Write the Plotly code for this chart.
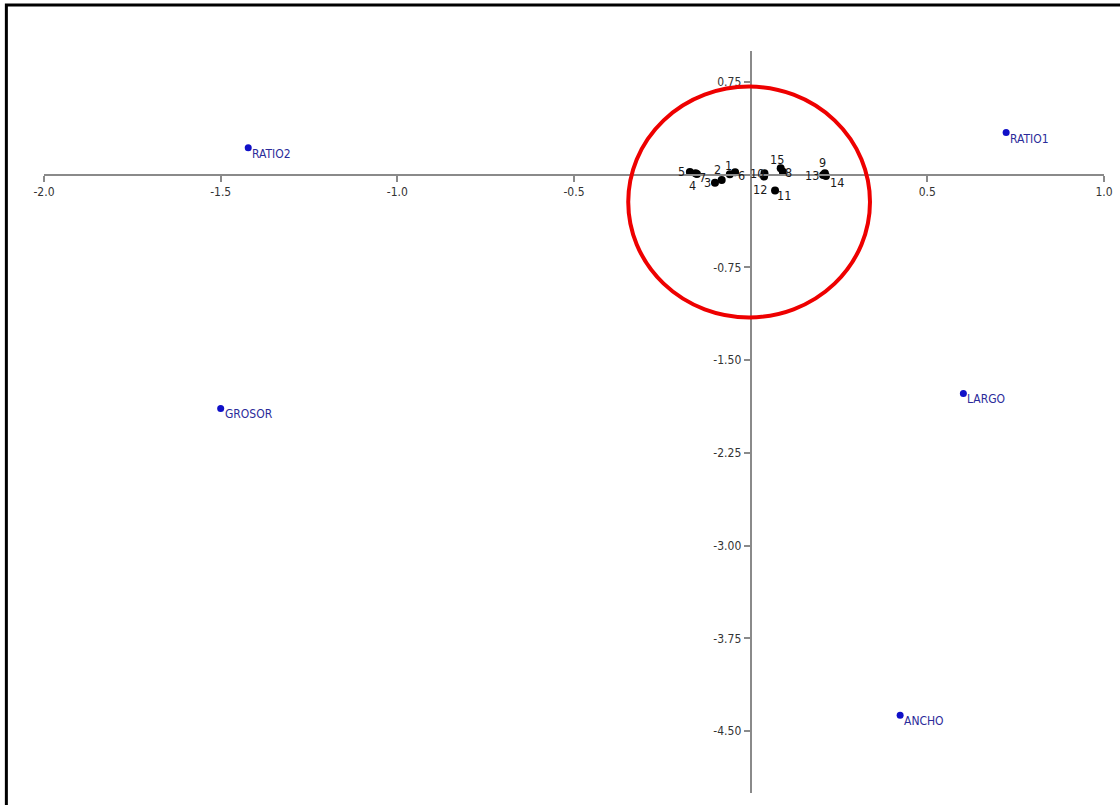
import plotly.graph_objects as go

# Observations (scores on the two components)
obs_labels = ["1", "2", "3", "4", "5", "6", "7", "8", "9", "10", "11", "12", "13", "14", "15"]
obs_x = [-0.059, -0.082, -0.101, -0.156, -0.172, -0.044, -0.152, 0.091, 0.210, 0.039,
         0.069, 0.038, 0.205, 0.213, 0.085]
obs_y = [0.003, -0.043, -0.065, 0.011, 0.022, 0.019, 0.006, 0.024, 0.011, 0.011,
         -0.129, -0.015, -0.002, -0.011, 0.052]

# Variables (loadings)
var_labels = ["RATIO2", "RATIO1", "GROSOR", "LARGO", "ANCHO"]
var_x = [-1.422, 0.723, -1.500, 0.602, 0.423]
var_y = [0.218, 0.340, -1.890, -1.769, -4.371]

# Axis ticks
x_tickvals = [-2.0, -1.5, -1.0, -0.5, 0.5, 1.0]
x_ticktext = ["-2.0", "-1.5", "-1.0", "-0.5", "0.5", "1.0"]
y_tickvals = [0.75, -0.75, -1.50, -2.25, -3.00, -3.75, -4.50]
y_ticktext = ["0.75", "-0.75", "-1.50", "-2.25", "-3.00", "-3.75", "-4.50"]

X_RANGE = [-2.0, 1.0]
Y_RANGE = [-5.0, 1.0]

# Highlight ellipse around the cluster of observations
ellipse = dict(x0=-0.3465, x1=0.3377, y0=-1.154, y1=0.712)

FONT = "DejaVu Sans Condensed, Liberation Sans Narrow, Arial Narrow, sans-serif"

# Label offsets (pixels, right / up) so the crowded labels stay readable
obs_label_shift = [(-1, 9), (-4, 10), (-7, 0), (-3, -12), (-8, 0), (6, -3), (6, -4),
                   (6, -1), (-2, 11), (-7, 0), (9, -5), (-4, -13), (-11, -1), (11, -6),
                   (-4, 9)]

fig = go.Figure()

fig.add_trace(go.Scatter(
    x=obs_x, y=obs_y, mode="markers", text=obs_labels,
    marker=dict(color="black", size=8),
    cliponaxis=False, hoverinfo="text",
))

for lbl, ox, oy, (dx, dy) in zip(obs_labels, obs_x, obs_y, obs_label_shift):
    fig.add_annotation(
        x=ox, y=oy, text=lbl, showarrow=False, xanchor="center", yanchor="middle",
        xshift=dx, yshift=dy,
        font=dict(family=FONT, size=12.5, color="#1a1a1a"),
    )

fig.add_trace(go.Scatter(
    x=var_x, y=var_y, mode="markers",
    marker=dict(color="#1010c8", size=7),
    cliponaxis=False, hoverinfo="text", text=var_labels,
))

for lbl, vx, vy in zip(var_labels, var_x, var_y):
    fig.add_annotation(
        x=vx, y=vy, text=lbl, showarrow=False, xanchor="left", yanchor="middle",
        xshift=2, yshift=-6,
        font=dict(family=FONT, size=12, color="#2b2b9a"),
    )

fig.add_shape(type="circle", xref="x", yref="y", line=dict(color="#ee0000", width=4),
              fillcolor="rgba(0,0,0,0)", **ellipse)

# Outer frame
fig.add_shape(type="rect", xref="paper", yref="paper",
              x0=-0.0355, x1=1.2, y0=-0.2, y1=1.062,
              line=dict(color="black", width=3), fillcolor="rgba(0,0,0,0)", layer="below")

x_pos = (0 - Y_RANGE[0]) / (Y_RANGE[1] - Y_RANGE[0])
y_pos = (0 - X_RANGE[0]) / (X_RANGE[1] - X_RANGE[0])

axis_common = dict(
    showgrid=False, zeroline=False, showline=True, linecolor="#8a8a8a", linewidth=2,
    ticks="outside", ticklen=6, tickwidth=1.5, tickcolor="#8a8a8a",
    tickfont=dict(family=FONT, size=12, color="#333333"), anchor="free",
    automargin=False,
)

fig.update_layout(
    width=1120, height=805,
    margin=dict(l=44, r=16, t=51, b=12),
    paper_bgcolor="white", plot_bgcolor="white",
    showlegend=False,
    xaxis=dict(range=X_RANGE, tickvals=x_tickvals, ticktext=x_ticktext,
               position=x_pos, side="bottom", **axis_common),
    yaxis=dict(range=Y_RANGE, tickvals=y_tickvals, ticktext=y_ticktext,
               position=y_pos, side="left", **axis_common),
)

fig.write_html("out.html")
